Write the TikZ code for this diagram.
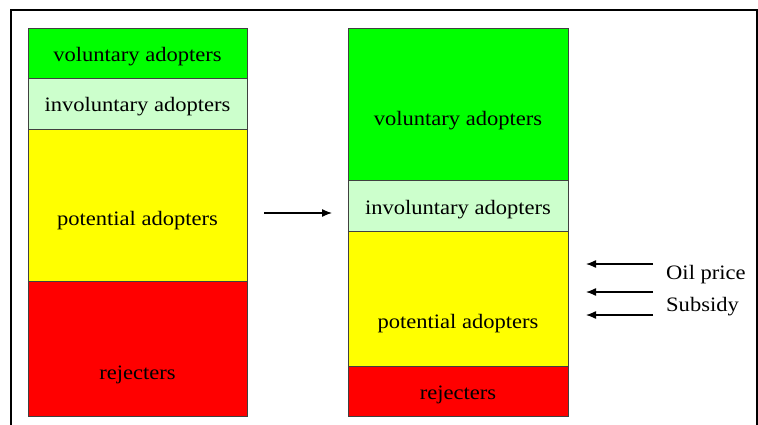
\documentclass[tikz,border=0pt]{standalone}
\usepackage{fontspec}
\setmainfont[FakeStretch=1.1]{Liberation Serif}
\usetikzlibrary{arrows.meta}
\definecolor{vgreen}{HTML}{00FF00}
\definecolor{lgreen}{HTML}{CCFFCC}
\definecolor{yel}{HTML}{FFFF00}
\definecolor{rd}{HTML}{FF0000}
\tikzset{
  box/.style={draw=black!75, line width=0.8pt, anchor=north west, inner sep=0pt, outer sep=0pt},
  lbl/.style={font=\fontsize{20.5pt}{22pt}\selectfont, inner sep=0pt, yshift=-2pt},
  arr/.style={line width=1.3pt, -{Latex[length=10pt,width=8pt]}}
}
\begin{document}
\begin{tikzpicture}[x=1pt,y=-1pt]
\useasboundingbox (0,0) rectangle (758,425);
% frame
\draw[line width=1.5pt] (11,425) -- (11,10) -- (757,10) -- (757,425);
% left column
\node[box, fill=vgreen, minimum width=219pt, minimum height=50pt] (lv) at (28,28) {};
\node[box, fill=lgreen, minimum width=219pt, minimum height=51pt] (li) at (28,78) {};
\node[box, fill=yel, minimum width=219pt, minimum height=152pt] (lp) at (28,129) {};
\node[box, fill=rd, minimum width=219pt, minimum height=135pt] (lr) at (28,281) {};
% right column
\node[box, fill=vgreen, minimum width=220pt, minimum height=152pt] (rv) at (348,28) {};
\node[box, fill=lgreen, minimum width=220pt, minimum height=51pt] (ri) at (348,180) {};
\node[box, fill=yel, minimum width=220pt, minimum height=135pt] (rp) at (348,231) {};
\node[box, fill=rd, minimum width=220pt, minimum height=50pt] (rr) at (348,366) {};
% labels
\node[lbl] (tlv) at (137.5,55) {voluntary adopters};
\node[lbl] (tli) at (137.5,105) {involuntary adopters};
\node[lbl] (tlp) at (137.5,219) {potential adopters};
\node[lbl] (tlr) at (137.5,373) {rejecters};
\node[lbl] (trv) at (458,119) {voluntary adopters};
\node[lbl] (tri) at (458,208) {involuntary adopters};
\node[lbl] (trp) at (458,322) {potential adopters};
\node[lbl] (trr) at (458,393) {rejecters};
% middle arrow
\coordinate (ma) at (264,213);
\coordinate (mb) at (332,213);
\draw[arr] (ma) -- (mb);
% right arrows
\coordinate (a1s) at (653,264); \coordinate (a1e) at (586,264);
\coordinate (a2s) at (653,292); \coordinate (a2e) at (586,292);
\coordinate (a3s) at (653,315); \coordinate (a3e) at (586,315);
\draw[arr] (a1s) -- (a1e);
\draw[arr] (a2s) -- (a2e);
\draw[arr] (a3s) -- (a3e);
\node[lbl, anchor=west] (oil) at (666,273) {Oil price};
\node[lbl, anchor=west] (sub) at (666,305) {Subsidy};
\end{tikzpicture}
\end{document}
